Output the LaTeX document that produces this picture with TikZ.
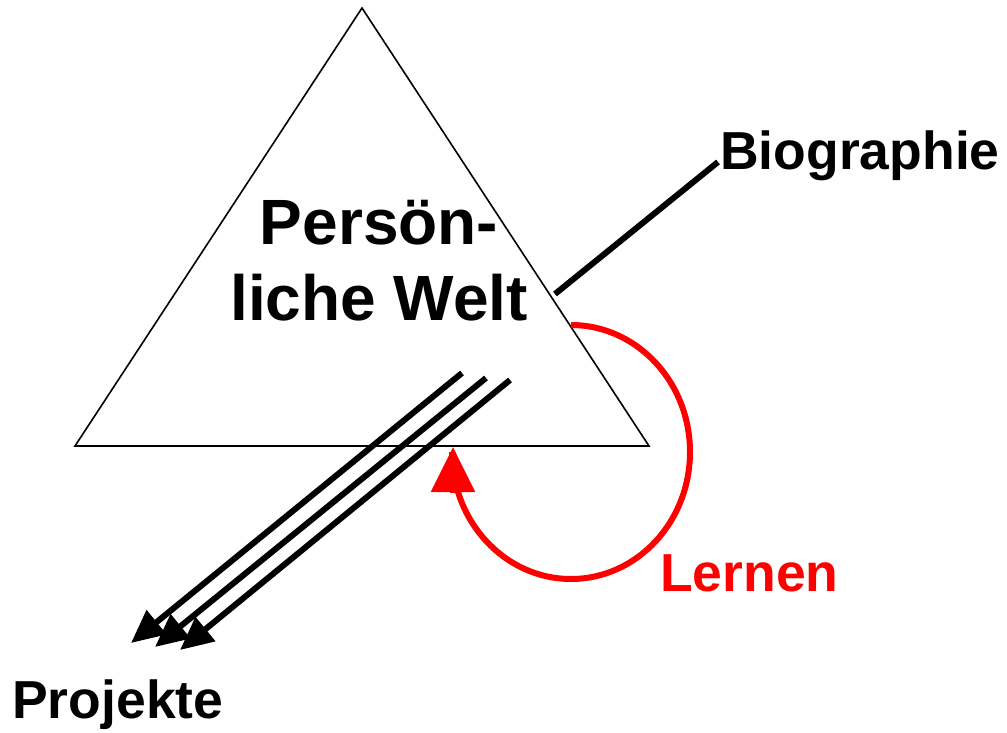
\documentclass[tikz,border=0pt]{standalone}
\usepackage{fontspec}
\setmainfont{Liberation Sans}
\usetikzlibrary{arrows.meta}
\definecolor{lred}{RGB}{255,0,0}
\begin{document}
\begin{tikzpicture}[x=1pt,y=-1pt,
  bigtxt/.style={inner sep=0pt,font=\fontsize{64}{76}\selectfont\bfseries},
  lbl/.style={inner sep=0pt,font=\fontsize{53.5}{62}\selectfont\bfseries},
  thick line/.style={line width=6pt},
  proj/.style={line width=6pt,-{Triangle[length=33pt,width=30pt]}}]
\useasboundingbox (0,0) rectangle (1007,733);
% triangle
\coordinate (apex) at (362,8);
\coordinate (bl) at (75,446);
\coordinate (br) at (649,446);
\draw[line width=1.6pt,line join=miter] (apex) -- (bl) -- (br) -- cycle;
% texts
\node[bigtxt,anchor=base] (t1) at (379,244) {Persön-};
\node[bigtxt,anchor=base] (t2) at (379,320) {liche Welt};
\node[lbl,anchor=base west] (bio) at (720,170) {Biographie};
\node[lbl,anchor=base west,text=lred] (lern) at (660,591) {Lernen};
\node[lbl,anchor=base west] (proj) at (12,718) {Projekte};
% biography line
\coordinate (b0) at (555,294);
\coordinate (b1) at (718,162);
\draw[thick line] (b0) -- (b1);
% project arrows
\coordinate (s1) at (462,373); \coordinate (e1) at (131,643);
\coordinate (s2) at (486,378); \coordinate (e2) at (155,647);
\coordinate (s3) at (510,380); \coordinate (e3) at (180,650);
\draw[proj] (s1) -- (e1);
\draw[proj] (s2) -- (e2);
\draw[proj] (s3) -- (e3);
% learning loop
\coordinate (l0) at (571,325);
\coordinate (lt) at (453,447);
\coordinate (lb) at (453,493);
\draw[lred,line width=6pt] (l0) arc[start angle=-90,end angle=180,x radius=119,y radius=127];
\draw[lred,line width=6pt,-{Triangle[length=45pt,width=43pt]}] (lb) -- (lt);
\end{tikzpicture}
\end{document}
